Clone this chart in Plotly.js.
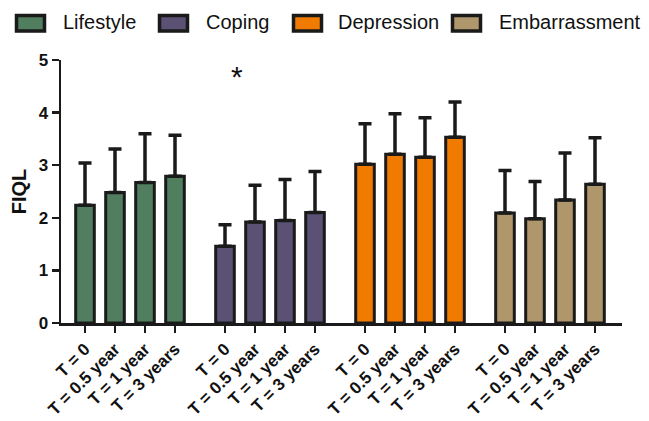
<!DOCTYPE html>
<html>
<head>
<meta charset="utf-8">
<script src="https://cdn.plot.ly/plotly-3.0.1.min.js"></script>
<style>html,body{margin:0;padding:0;background:#fff;}#chart{width:649px;height:421px;}</style>
</head>
<body>
<div id="chart"></div>
<script>
// ---- data ----
var groups = ["Lifestyle", "Coping", "Depression", "Embarrassment"];
var timeLabels = ["T = 0", "T = 0.5 year", "T = 1 year", "T = 3 years"];
var lifestyleMean = [2.24, 2.48, 2.67, 2.79];
var lifestyleSD   = [0.80, 0.83, 0.93, 0.78];
var copingMean = [1.46, 1.92, 1.95, 2.10];
var copingSD   = [0.41, 0.70, 0.78, 0.78];
var depressionMean = [3.02, 3.21, 3.15, 3.53];
var depressionSD   = [0.77, 0.77, 0.75, 0.67];
var embarrassmentMean = [2.09, 1.98, 2.34, 2.64];
var embarrassmentSD   = [0.81, 0.71, 0.89, 0.88];
var yTicks = [0, 1, 2, 3, 4, 5];

var means = [lifestyleMean, copingMean, depressionMean, embarrassmentMean];
var sds = [lifestyleSD, copingSD, depressionSD, embarrassmentSD];
var colors = ["#517e5e", "#5b5175", "#f07b00", "#b0976b"];

var stride = 14 / 3; // group spacing in bar slots
var traces = [];
var tickvals = [], ticktext = [];
groups.forEach(function (g, gi) {
  var xs = timeLabels.map(function (_, i) { return gi * stride + i; });
  xs.forEach(function (x, i) { tickvals.push(x); ticktext.push(timeLabels[i]); });
  traces.push({
    type: "bar",
    name: g,
    x: xs,
    y: means[gi],
    width: 0.62,
    marker: { color: colors[gi], line: { color: "#1a1a1a", width: 3 } },
    error_y: { type: "data", symmetric: false, array: sds[gi], arrayminus: sds[gi].map(function () { return 0; }),
               color: "#1a1a1a", thickness: 3.5, width: 6.5 },
    showlegend: false,
    hoverinfo: "x+y"
  });
});

// layout helpers (pixel -> paper)
var L = 61, R = 622, T = 60, B = 323;
function px(x) { return (x - L) / (R - L); }
function py(y) { return (B - y) / (B - T); }

var FONT = "Arial, Liberation Sans, sans-serif";
var shapes = [], annotations = [];
var boxX = [15, 158, 292, 451];
var textX = [61, 204, 336, 497];
groups.forEach(function (g, gi) {
  shapes.push({ type: "rect", xref: "paper", yref: "paper",
    x0: px(boxX[gi] + 1.5), x1: px(boxX[gi] + 29.5), y0: py(31), y1: py(15.5),
    fillcolor: colors[gi], line: { color: "#1a1a1a", width: 3.5 } });
  annotations.push({ xref: "paper", yref: "paper", x: px(textX[gi]), y: py(22),
    xanchor: "left", yanchor: "middle", showarrow: false, text: g,
    font: { family: FONT, size: 20, color: "#111" } });
});
annotations.push({ xref: "x", yref: "y", x: 5.07, y: 4.68, showarrow: false, text: "*",
  font: { family: FONT, size: 30, color: "#111" } });

var layout = {
  width: 649, height: 421,
  margin: { l: L, r: 649 - R, t: T, b: 421 - B, pad: 0 },
  paper_bgcolor: "#fff", plot_bgcolor: "#fff",
  barmode: "overlay",
  font: { family: FONT, color: "#111" },
  xaxis: {
    range: [-0.8, 17.9], tickmode: "array", tickvals: tickvals, ticktext: ticktext,
    tickangle: -45, ticks: "outside", ticklen: 7, tickwidth: 2.5, tickcolor: "#1a1a1a",
    showline: true, linewidth: 2.5, linecolor: "#1a1a1a", showgrid: false, zeroline: false,
    tickfont: { size: 17, family: FONT, weight: "bold" }
  },
  yaxis: {
    range: [0, 5], tickmode: "array", tickvals: yTicks, ticks: "outside", ticklen: 7, tickwidth: 2.5,
    tickcolor: "#1a1a1a", showline: true, linewidth: 2.5, linecolor: "#1a1a1a", showgrid: false,
    zeroline: false, tickfont: { size: 17, weight: "bold" },
    title: { text: "<b>FIQL</b>", font: { size: 20 }, standoff: 7 }
  },
  shapes: shapes,
  annotations: annotations
};

Plotly.newPlot("chart", traces, layout, { staticPlot: true, displayModeBar: false });
</script>
</body>
</html>
